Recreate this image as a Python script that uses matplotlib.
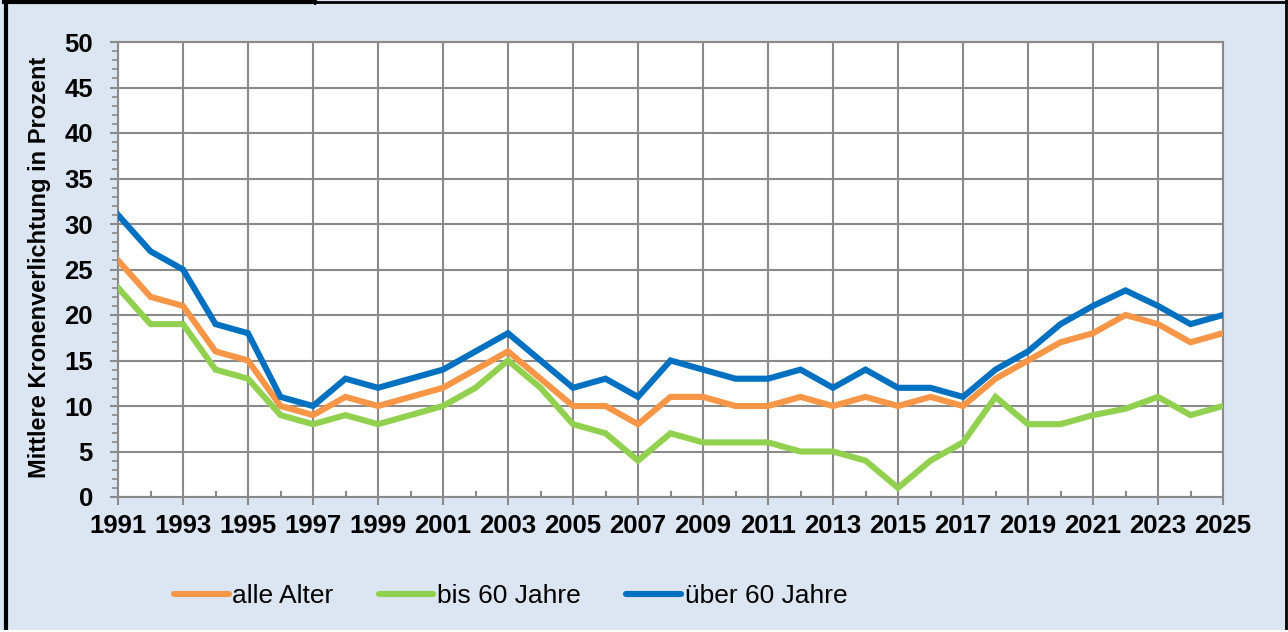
import matplotlib
matplotlib.use("Agg")
import matplotlib.pyplot as plt
from matplotlib.lines import Line2D
from matplotlib.ticker import FixedLocator, MultipleLocator

plt.rcParams["font.family"] = ["Liberation Sans", "DejaVu Sans"]

years = list(range(1991, 2026))
alle_alter = [26, 22, 21, 16, 15, 10, 9, 11, 10, 11, 12, 14, 16, 13, 10, 10, 8,
              11, 11, 10, 10, 11, 10, 11, 10, 11, 10, 13, 15, 17, 18, 20, 19, 17, 18]
bis_60 = [23, 19, 19, 14, 13, 9, 8, 9, 8, 9, 10, 12, 15, 12, 8, 7, 4,
          7, 6, 6, 6, 5, 5, 4, 1, 4, 6, 11, 8, 8, 9, 9.7, 11, 9, 10]
ueber_60 = [31, 27, 25, 19, 18, 11, 10, 13, 12, 13, 14, 16, 18, 15, 12, 13, 11,
            15, 14, 13, 13, 14, 12, 14, 12, 12, 11, 14, 16, 19, 21, 22.7, 21, 19, 20]
x_labels = years[::2]   # 1991, 1993, ... 2025

series = [("alle Alter", alle_alter, "#F79646"),
          ("bis 60 Jahre", bis_60, "#92D050"),
          ("über 60 Jahre", ueber_60, "#0070C0")]

BG = "#DCE6F2"
GRID = "#8A8A8A"
W, H = 1288, 632

fig = plt.figure(figsize=(W / 100, H / 100), dpi=100, facecolor=BG)
ax = fig.add_axes([118 / W, 1 - 497 / H, (1223 - 118) / W, (497 - 42) / H])
ax.set_facecolor("white")

for name, vals, col in series:
    ax.plot(years, vals, color=col, lw=4.4, solid_joinstyle="miter", zorder=3)

ax.set_xlim(years[0], years[-1])
ax.set_ylim(0, 50)
ax.xaxis.set_major_locator(FixedLocator(x_labels))
ax.xaxis.set_minor_locator(FixedLocator(years))
ax.yaxis.set_major_locator(MultipleLocator(5))
ax.yaxis.set_minor_locator(MultipleLocator(1))
ax.grid(True, which="major", color=GRID, lw=1.5, zorder=1)
for s in ax.spines.values():
    s.set_color(GRID)
    s.set_linewidth(1.5)

ax.tick_params(axis="x", which="major", direction="out", length=5.5, width=1.5,
               color=GRID, pad=7, labelsize=18.5)
ax.tick_params(axis="x", which="minor", direction="in", length=4, width=1.5, color=GRID)
ax.tick_params(axis="y", which="major", length=6, width=1.5, color=GRID, pad=12,
               labelsize=18.5)
ax.tick_params(axis="y", which="minor", length=4, width=1.2, color=GRID)
for lab in ax.get_xticklabels() + ax.get_yticklabels():
    lab.set_fontweight("bold")

ax.set_ylabel("Mittlere Kronenverlichtung in Prozent", fontsize=17, fontweight="bold")
ax.yaxis.set_label_coords(-0.0610, 0.504)

handles = [Line2D([], [], color=col, lw=4.4, solid_capstyle="round")
           for _, _, col in series]
fig.legend(handles, [s[0] for s in series], loc="center",
           bbox_to_anchor=(0.3964, 1 - 596 / H), ncol=3, frameon=False,
           fontsize=19, handlelength=2.08, handletextpad=0.15, columnspacing=1.7)

# outer border
tf = fig.transFigure
fig.add_artist(Line2D([5.5 / W] * 2, [2 / H, 1], color="black", lw=3, transform=tf))
fig.add_artist(Line2D([4 / W, 315 / W], [1 - 2 / H] * 2, color="black", lw=3, transform=tf))
fig.add_artist(Line2D([315 / W, 1], [1 - 1.5 / H] * 2, color="black", lw=2, transform=tf))
fig.add_artist(Line2D([315 / W] * 2, [1 - 4 / H, 1], color="black", lw=1.5, transform=tf))
fig.add_artist(Line2D([1 - 2.5 / W] * 2, [2 / H, 1], color="black", lw=2, transform=tf))
fig.add_artist(Line2D([0, 1], [0.8 / H] * 2, color="white", lw=1.5, transform=tf))

fig.savefig("out.png", dpi=100, facecolor=BG)
